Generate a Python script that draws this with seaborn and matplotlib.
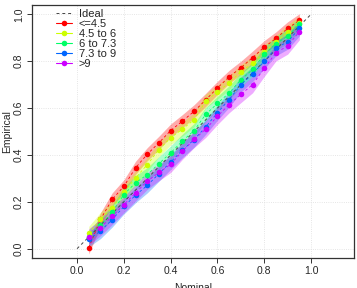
import numpy as np
import pandas as pd
import seaborn as sns
import matplotlib.pyplot as plt
from matplotlib.lines import Line2D

# Data
nominal = [0.05, 0.10, 0.15, 0.20, 0.25, 0.30, 0.35, 0.40, 0.45, 0.50,
           0.55, 0.60, 0.65, 0.70, 0.75, 0.80, 0.85, 0.90, 0.95]
groups = ["<=4.5", "4.5 to 6", "6 to 7.3", "7.3 to 9", ">9"]
emp_le45 = [0.005, 0.125, 0.21, 0.266, 0.345, 0.403, 0.452, 0.504, 0.544, 0.586,
            0.635, 0.686, 0.733, 0.772, 0.815, 0.86, 0.897, 0.94, 0.974]
emp_45_6 = [0.065, 0.125, 0.175, 0.24, 0.302, 0.359, 0.423, 0.473, 0.51, 0.55,
            0.63, 0.668, 0.708, 0.755, 0.79, 0.84, 0.88, 0.925, 0.962]
emp_6_73 = [0.05, 0.10, 0.155, 0.231, 0.281, 0.316, 0.363, 0.409, 0.459, 0.504,
            0.573, 0.62, 0.665, 0.72, 0.765, 0.829, 0.875, 0.907, 0.957]
emp_73_9 = [0.04, 0.075, 0.124, 0.18, 0.228, 0.27, 0.32, 0.37, 0.42, 0.465,
            0.52, 0.58, 0.636, 0.70, 0.745, 0.80, 0.855, 0.883, 0.94]
emp_gt9 = [0.05, 0.09, 0.138, 0.188, 0.238, 0.288, 0.325, 0.36, 0.416, 0.466,
           0.51, 0.565, 0.615, 0.658, 0.70, 0.77, 0.836, 0.865, 0.926]
band_halfwidth = [0.028, 0.03, 0.03, 0.032, 0.035]
colors = ["#FF0000", "#CCFF00", "#00FF66", "#0066FF", "#CC00FF"]

series = [emp_le45, emp_45_6, emp_6_73, emp_73_9, emp_gt9]
df = pd.concat([pd.DataFrame({"Nominal": nominal, "Empirical": s, "group": g})
                for g, s in zip(groups, series)], ignore_index=True)

sns.set_style("white")
plt.rcParams['font.family'] = ['Liberation Sans', 'DejaVu Sans']

fig = plt.figure(figsize=(3.57, 2.88), dpi=100)
ax = fig.add_axes([0.09, 0.104, 0.902, 0.879])

# uncertainty bands
for s, c, hw in zip(series, colors, band_halfwidth):
    s = np.array(s)
    ax.fill_between(nominal, s - hw, s + hw, color=c, alpha=0.33, lw=0, zorder=1)

# ideal line
ax.plot([0, 1], [0, 1], ls=(0, (3, 3)), color="#444444", lw=0.7, zorder=2)

sns.lineplot(data=df, x="Nominal", y="Empirical", hue="group", hue_order=groups,
             palette=colors, marker="o", markersize=4.0, markeredgewidth=0,
             lw=0.6, linestyle=(0, (3, 3)), legend=False, ax=ax, zorder=3)

ax.set_xlim(-0.192, 1.184)
ax.set_ylim(-0.04, 1.04)
ticks = [0.0, 0.2, 0.4, 0.6, 0.8, 1.0]
ax.set_xticks(ticks)
ax.set_yticks(ticks)
ax.set_xticklabels([f"{t:.1f}" for t in ticks], fontsize=7.5)
ax.set_yticklabels([f"{t:.1f}" for t in ticks], fontsize=7.5, rotation=90, va="center")
ax.tick_params(direction="out", length=3.5, width=0.7, color="#333333", pad=2.5,
               bottom=True, left=True)
ax.grid(True, color="#dddddd", ls=":", lw=0.6)
for sp in ax.spines.values():
    sp.set_color("#333333")
    sp.set_linewidth(0.9)
ax.set_xlabel("Nominal", fontsize=7.5, labelpad=5)
ax.set_ylabel("Empirical", fontsize=7.5, labelpad=1)

handles = [Line2D([], [], ls=(0, (3, 3)), color="#444444", lw=0.7)]
handles += [Line2D([], [], color=c, lw=0.8, marker="o", markersize=4.0,
                   markeredgewidth=0) for c in colors]
ax.legend(handles, ["Ideal"] + groups, loc="upper left", bbox_to_anchor=(0.075, 0.985),
          frameon=False, fontsize=8, handlelength=1.45, handletextpad=0.55,
          labelspacing=0.0, borderaxespad=0, borderpad=0)

plt.savefig("out.png", dpi=100)
plt.close()
